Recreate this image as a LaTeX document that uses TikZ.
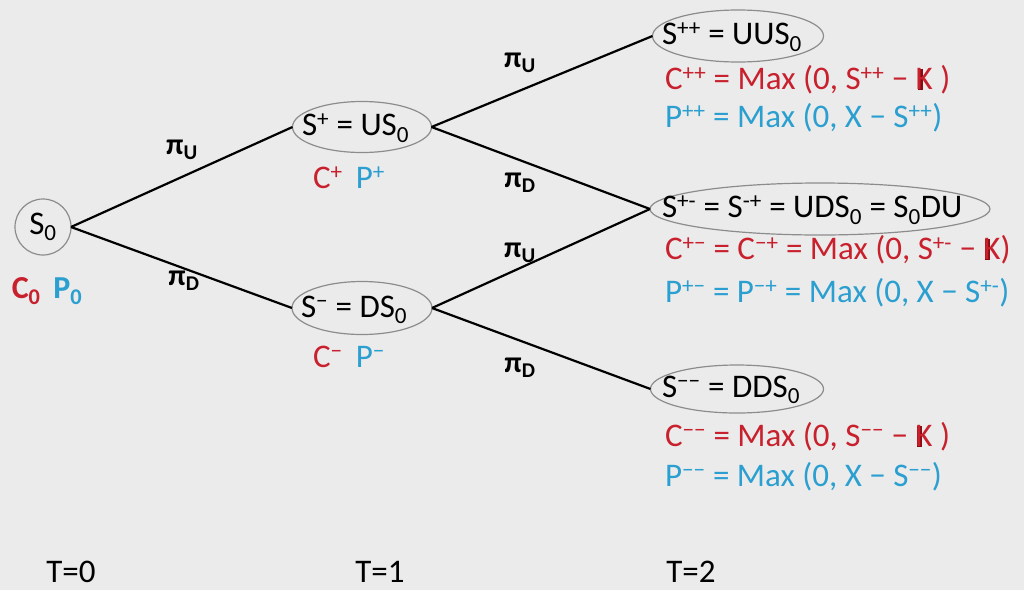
\documentclass[tikz,border=0pt]{standalone}
\usepackage{fontspec}
\setmainfont{Carlito}
\usetikzlibrary{shapes.geometric}
\definecolor{bg}{HTML}{EBEBEB}
\definecolor{cred}{HTML}{C8202C}
\definecolor{pblue}{HTML}{2A9FD0}
\definecolor{kdark}{HTML}{8B0A12}
\definecolor{ring}{HTML}{8C8C8C}
\newcommand\mysup[1]{\textsuperscript{#1}}
\newcommand\mysub[1]{\textsubscript{#1}}
\newcommand\Kx{\rlap{\kern0.06em\color{kdark}\rule{0.15em}{0.64em}}K}
\begin{document}
\begin{tikzpicture}[x=1pt,y=-1pt,
 every node/.style={inner sep=0pt, outer sep=0pt},
 txt/.style={font=\fontsize{33}{39}\selectfont},
 state/.style={draw=ring, line width=1.2pt, ellipse},
 rootstate/.style={draw=ring, line width=1.2pt, circle, txt},
 statetxt/.style={txt, anchor=west},
 branch/.style={line width=2.2pt},
 prob/.style={font=\fontsize{30}{34}\selectfont\bfseries},
 callv/.style={txt, text=cred, anchor=west},
 putv/.style={txt, text=pblue, anchor=west},
 tlab/.style={font=\fontsize{33}{38}\selectfont}]
\fill[bg] (0,0) rectangle (1024,590);
\useasboundingbox (0,0) rectangle (1024,590);

% states
\node[rootstate, minimum size=56pt] (s0) at (43,227) {S\mysub{0}};
\node[state, minimum width=139pt, minimum height=51pt] (sp) at (362,127) {};
\node[state, minimum width=140pt, minimum height=53pt] (sm) at (362,308) {};
\node[state, minimum width=171pt, minimum height=52pt] (spp) at (738,36) {};
\node[state, minimum width=340pt, minimum height=52pt] (spm) at (820,209) {};
\node[state, minimum width=173pt, minimum height=48pt] (smm) at (737,389) {};

\node[statetxt] (tsp) at (302,128) {S\mysup{+} = US\mysub{0}};
\node[statetxt] (tsm) at (301,310) {S\mysup{−} = DS\mysub{0}};
\node[statetxt] (tspp) at (662,37) {S\mysup{++} = UUS\mysub{0}};
\node[statetxt] (tspm) at (662,210) {S\mysup{+-} = S\mysup{-+} = UDS\mysub{0} = S\mysub{0}DU};
\node[statetxt] (tsmm) at (662,390) {S\mysup{−−} = DDS\mysub{0}};

% branches
\draw[branch] (s0.east) -- (sp.west);
\draw[branch] (s0.east) -- (sm.west);
\draw[branch] (sp.east) -- (spp.west);
\draw[branch] (sp.east) -- (spm.west);
\draw[branch] (sm.east) -- (spm.west);
\draw[branch] (sm.east) -- (smm.west);

% probabilities
\node[prob] (pu1) at (182,150) {π\mysub{U}};
\node[prob] (pd1) at (184,281) {π\mysub{D}};
\node[prob] (pu2) at (520,63) {π\mysub{U}};
\node[prob] (pd2) at (520,183) {π\mysub{D}};
\node[prob] (pu3) at (520,253) {π\mysub{U}};
\node[prob] (pd3) at (520,368) {π\mysub{D}};

% option values at T=0 and T=1
\node[txt, font=\fontsize{32}{38}\selectfont\bfseries] (cp0) at (47,291) {\textcolor{cred}{C\mysub{0}}\hspace{0.4em}\textcolor{pblue}{P\mysub{0}}};
\node[txt] (cp1) at (349,178) {\textcolor{cred}{C\mysup{+}}\hspace{0.4em}\textcolor{pblue}{P\mysup{+}}};
\node[txt] (cm1) at (349,357) {\textcolor{cred}{C\mysup{−}}\hspace{0.4em}\textcolor{pblue}{P\mysup{−}}};

% payoffs at T=2
\node[callv] (cpp) at (665,80) {C\mysup{++} = Max (0, S\mysup{++} − \Kx\ )};
\node[putv] (ppp) at (665,118) {P\mysup{++} = Max (0, X − S\mysup{++})};
\node[callv] (cpm) at (665,250) {C\mysup{+−} = C\mysup{−+} = Max (0, S\mysup{+-} − \Kx)};
\node[putv] (ppm) at (665,293) {P\mysup{+−} = P\mysup{−+} = Max (0, X − S\mysup{+-})};
\node[callv] (cmm) at (665,437) {C\mysup{−−} = Max (0, S\mysup{−−} − \Kx\ )};
\node[putv] (pmm) at (665,477) {P\mysup{−−} = Max (0, X − S\mysup{−−})};

% time labels
\node[tlab] (t0) at (71,572) {T=0};
\node[tlab] (t1) at (380,572) {T=1};
\node[tlab] (t2) at (691,572) {T=2};
\end{tikzpicture}
\end{document}
